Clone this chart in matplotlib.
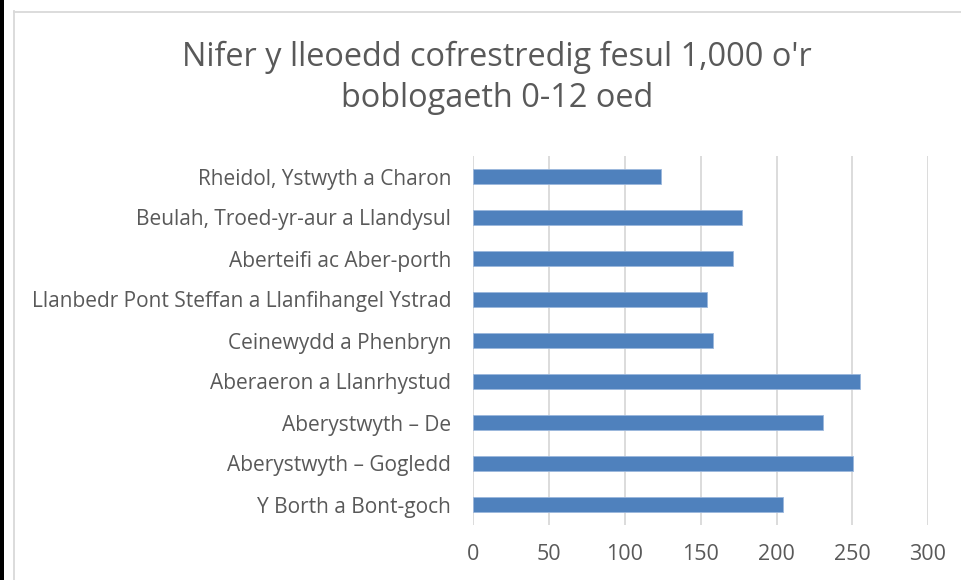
import matplotlib
matplotlib.use("Agg")
import matplotlib.pyplot as plt
from matplotlib.patches import Rectangle
from matplotlib.lines import Line2D

plt.rcParams['font.family'] = ['Open Sans', 'DejaVu Sans']

# ardaloedd, o'r top i'r gwaelod
ardaloedd = [
    "Rheidol, Ystwyth a Charon",
    "Beulah, Troed-yr-aur a Llandysul",
    "Aberteifi ac Aber-porth",
    "Llanbedr Pont Steffan a Llanfihangel Ystrad",
    "Ceinewydd a Phenbryn",
    "Aberaeron a Llanrhystud",
    "Aberystwyth \u2013 De",
    "Aberystwyth \u2013 Gogledd",
    "Y Borth a Bont-goch",
]
lleoedd = [124, 177, 171, 154, 158, 255, 230.5, 250.5, 204.5]
ticiau = [0, 50, 100, 150, 200, 250, 300]

W, H = 962, 580
fig = plt.figure(figsize=(W / 100, H / 100), dpi=100)
fig.patch.set_facecolor("white")

# stribed du ar y chwith a ffin lwyd yr ardal siart
fig.add_artist(Rectangle((0, 0), 4 / W, 1, transform=fig.transFigure,
                         facecolor="black", edgecolor="none"))
fig.add_artist(Line2D([14.5 / W, 14.5 / W], [0, 1 - 11 / H], transform=fig.transFigure,
                      color="#d9d9d9", lw=1.3))
fig.add_artist(Line2D([14.5 / W, 1], [1 - 11.5 / H, 1 - 11.5 / H], transform=fig.transFigure,
                      color="#d9d9d9", lw=1.3))

x0, x1 = 473.5, 928
y_top, y_bot = 156, 525
ax = fig.add_axes([x0 / W, 1 - y_bot / H, (x1 - x0) / W, (y_bot - y_top) / H])

ys = list(range(len(ardaloedd)))[::-1]
ax.barh(ys, lleoedd, height=0.36, color="#4f81bd", edgecolor="#9bb7dc", linewidth=0.6, zorder=3)

ax.set_xlim(0, 300)
ax.set_ylim(-0.5, len(ardaloedd) - 0.5)
ax.set_xticks(ticiau)
ax.set_xticklabels([str(t) for t in ticiau])
ax.set_yticks(ys)
ax.set_yticklabels(ardaloedd)
ax.grid(axis="x", color="#d9d9d9", lw=1.3, zorder=0)
for s in ax.spines.values():
    s.set_visible(False)
ax.tick_params(axis="both", length=0, colors="#595959")
ax.tick_params(axis="y", labelsize=15, pad=16)
ax.tick_params(axis="x", labelsize=15.5, pad=14)

fig.text(0.517, 1 - 78 / H, "Nifer y lleoedd cofrestredig fesul 1,000 o'r\nboblogaeth 0-12 oed",
         ha="center", va="center", fontsize=23.4, color="#595959", linespacing=1.35)

fig.savefig("out.png", dpi=100)
